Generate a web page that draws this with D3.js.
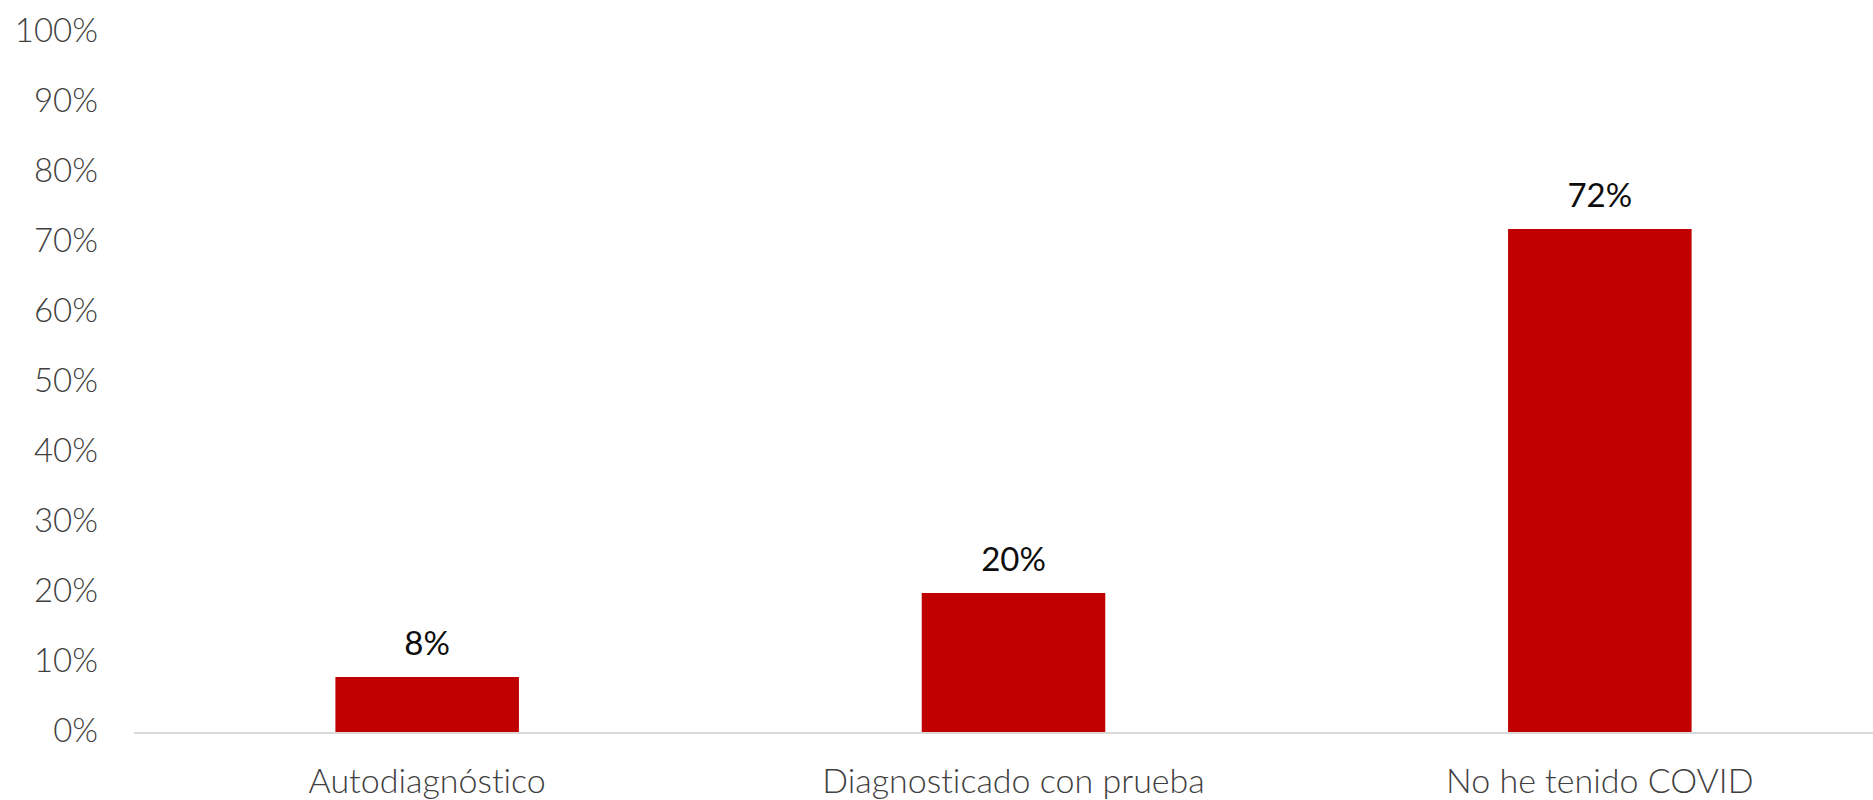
<!DOCTYPE html>
<html>
<head>
<meta charset="utf-8">
<script src="https://cdn.jsdelivr.net/npm/d3@7"></script>
<style>
  body { margin: 0; background: #fff; }
  svg { display: block; }
  text { font-variant-ligatures: none; }
</style>
</head>
<body>
<div id="barChart"></div>
<script>
// chart data
var categories = ['Autodiagnóstico', 'Diagnosticado con prueba', 'No he tenido COVID']
var values = [0.08, 0.20, 0.72]
var tickValues = [0, 0.1, 0.2, 0.3, 0.4, 0.5, 0.6, 0.7, 0.8, 0.9, 1]

var width = 1873
var height = 800

var x = d3.scaleBand()
  .domain(categories)
  .range([134, 1893])
  .paddingInner(0.687)
  .paddingOuter(0.3435);

var y = d3.scaleLinear()
  .domain([0, 1])
  .range([733, 33]);

var fmt = d3.format('.0%')

var svg = d3.select('#barChart').append('svg')
  .attr('width', width)
  .attr('height', height)

// y tick labels (no axis line)
var yAxis = d3.axisLeft(y)
  .tickValues(tickValues)
  .tickFormat(fmt)
  .tickSize(0)
  .tickPadding(0)

var gy = svg.append('g')
  .attr('transform', 'translate(98,0)')
  .call(yAxis)
gy.select('.domain').remove()
gy.selectAll('text')
  .attr('dy', '0.27em')
  .style('font-family', 'Lato')
  .style('font-weight', 300)
  .style('font-size', '33px')
  .style('fill', '#404040')

// bars
svg.selectAll('.bar')
  .data(values)
  .enter().append('rect')
  .attr('class', 'bar')
  .attr('x', function (d, i) { return x(categories[i]); })
  .attr('width', x.bandwidth())
  .attr('y', function (d) { return y(d); })
  .attr('height', function (d) { return y(0) - y(d); })
  .attr('fill', '#c00000')

// baseline + category labels
var xAxis = d3.axisBottom(x).tickSize(0).tickPadding(0)
var gx = svg.append('g')
  .attr('transform', 'translate(0,' + y(0) + ')')
  .call(xAxis)
gx.select('.domain')
  .attr('d', 'M134,0H1873')
  .attr('stroke', '#d9d9d9')
  .attr('stroke-width', 2)
gx.selectAll('text')
  .attr('y', 60)
  .attr('dy', 0)
  .style('font-family', 'Lato')
  .style('font-weight', 300)
  .style('font-size', '34px')
  .style('fill', '#404040')

// value labels
svg.selectAll('.label')
  .data(values)
  .enter().append('text')
  .attr('class', 'label')
  .attr('x', function (d, i) { return x(categories[i]) + x.bandwidth() / 2; })
  .attr('y', function (d) { return y(d) - 22; })
  .attr('text-anchor', 'middle')
  .style('font-family', 'Lato')
  .style('font-size', '33px')
  .style('fill', '#0d0d0d')
  .text(function (d) { return fmt(d); })
</script>
</body>
</html>
